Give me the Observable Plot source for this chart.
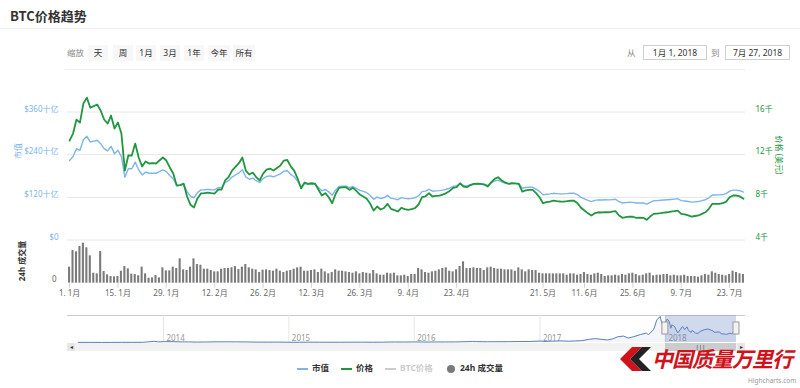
<!DOCTYPE html>
<html><head><meta charset="utf-8">
<script src="https://cdn.jsdelivr.net/npm/d3@7"></script>
<script src="https://cdn.jsdelivr.net/npm/@observablehq/plot@0.6"></script>
<style>
body{margin:0;background:#fff;font-family:"Noto Sans","Noto Sans CJK SC",sans-serif;}
#root{position:relative;width:800px;height:388px;overflow:hidden;background:#fff;}
.abs{position:absolute;}
.btn{position:absolute;top:45px;height:16px;line-height:16px;background:#f7f7f7;color:#333;font-size:8.5px;text-align:center;}
.dbox{position:absolute;top:45px;height:13px;line-height:13px;border:1px solid #cfcfcf;color:#333;font-size:8.5px;text-align:center;}
.rot{position:absolute;white-space:nowrap;font-size:8px;transform:translate(-50%,-50%) rotate(-90deg);}
.leg{position:absolute;top:362px;font-size:8.5px;font-weight:bold;color:#333;white-space:nowrap;line-height:12px;}
.legline{display:inline-block;width:11px;height:2px;vertical-align:middle;margin-right:4px;}
svg{overflow:visible;}
</style></head>
<body><div id="root">
<div class="abs" style="left:10px;top:6px;font-size:13px;font-weight:bold;color:#333;font-family:'Noto Sans CJK SC',sans-serif;">BTC价格趋势</div>
<div class="abs" style="left:0;top:28px;width:800px;height:1px;background:#eeeeee;"></div>
<div class="abs" style="left:67px;top:46px;font-size:8.5px;color:#888;line-height:14px;">缩放</div>
<div id="btns"></div>
<div class="abs" style="left:627px;top:46px;font-size:8.5px;color:#888;line-height:14px;">从</div>
<div class="dbox" style="left:643px;width:62px;">1月 1, 2018</div>
<div class="abs" style="left:711px;top:46px;font-size:8.5px;color:#888;line-height:14px;">到</div>
<div class="dbox" style="left:725px;width:63px;">7月 27, 2018</div>
<div class="abs" style="left:65px;top:69px;width:680px;height:1px;background:#eeeeee;"></div>
<div class="rot" style="left:17px;top:151px;color:#7cb5ec;">市值</div>
<div class="rot" style="left:779px;top:155px;color:#21963f;transform:translate(-50%,-50%) rotate(90deg);">价格 (美元)</div>
<div class="rot" style="left:21px;top:261px;color:#333;font-weight:bold;">24h 成交量</div>
<div id="main" class="abs" style="left:0;top:90px;"></div>
<div id="vol" class="abs" style="left:0;top:238px;"></div>
<div class="abs" style="left:67px;top:315px;width:678px;height:1px;background:#cccccc;"></div>
<div id="nav" class="abs" style="left:0;top:313px;"></div>
<div id="scroll"></div>
<div id="legend"></div>
<div class="abs" style="left:748px;top:376px;font-size:6.5px;color:#999;white-space:nowrap;">Highcharts.com</div>
<svg class="abs" style="left:618px;top:346px;" width="34" height="26" viewBox="0 0 34 26">
<polygon points="14,1 24,1 12,13 24,25 14,25 2,13" fill="#d0121b"/>
<polygon points="24,1 33,1 21,13 33,25 24,25 12,13" fill="#222"/>
</svg>
<div class="abs" style="left:652px;top:343px;font-size:21px;color:#d0121b;font-weight:bold;font-style:italic;font-family:'Noto Sans CJK SC',sans-serif;letter-spacing:-1px;">中国质量万里行</div>
</div>
<script>
const tickIndex = [0,14,28,42,56,70,84,98,112,137,149,163,177,191];
const tickLabels = ["1. 1月","15. 1月","29. 1月","12. 2月","26. 2月","12. 3月","26. 3月","9. 4月","23. 4月","21. 5月","11. 6月","25. 6月","9. 7月","23. 7月"];
const gridValues = [4000,8000,12000,16000];
const capTickLabels = ["$0","$120十亿","$240十亿","$360十亿"];
const priceTickLabels = ["4千","8千","12千","16千"];
const price = [
13320,13980,15290,15010,16790,17350,16400,16550,16700,16130,
15300,14920,15670,14450,15010,13980,10510,11920,11920,13040,
11730,10890,11360,11170,11200,11170,11450,11730,11450,10800,
10230,9110,9150,9290,8080,7300,7050,7900,8360,8400,
8450,8400,8360,8730,8730,9580,9900,10500,10850,11200,
11730,10510,10140,10320,9900,9580,10230,10600,10700,10510,
10750,10980,11450,11500,10900,10510,9760,8830,9390,9260,
9320,9290,8730,8170,8390,8010,7450,8330,8890,8930,
8950,8700,8890,8600,8260,8080,7860,7400,6760,7140,
6860,7000,7390,6920,6800,6670,7020,6900,6830,6890,
7000,7330,8010,8100,8390,8080,8130,8170,8260,8400,
8600,8890,8950,9320,9010,8950,9150,9270,9280,9270,
9200,9010,9400,9730,9880,9600,9400,9270,9320,9300,
9270,8540,8650,8700,8700,8390,8010,7450,7540,7600,
7700,7650,7610,7600,7640,7700,7680,7450,7020,6760,
6500,6300,6510,6600,6580,6620,6600,6650,6700,6300,
6080,6150,6200,6180,6080,6100,6080,5890,6200,6450,
6480,6510,6560,6600,6650,6700,6760,6450,6400,6300,
6200,6250,6300,6450,6600,6920,7390,7380,7390,7450,
7600,8010,8170,8170,8080,7860];
const marketCap = [
223.8,234.9,256.9,252.2,282.1,291.5,275.5,278.0,280.6,271.0,
257.0,250.7,263.3,242.8,252.2,234.9,176.6,200.3,200.3,219.1,
197.1,183.0,190.8,187.7,188.2,187.7,192.4,197.1,192.4,181.4,
171.9,153.5,154.2,156.5,136.1,123.0,118.8,133.1,140.9,141.5,
142.4,141.5,140.9,147.1,147.1,161.4,166.8,176.9,182.8,188.7,
197.7,177.1,170.9,173.9,166.8,161.4,172.4,178.6,180.3,177.8,
181.9,185.8,193.7,194.6,184.4,177.8,165.1,149.4,158.9,156.7,
157.7,157.2,147.7,138.2,142.0,135.5,126.1,140.9,150.4,151.1,
151.4,147.2,150.4,145.5,139.8,136.7,133.0,125.2,114.4,120.8,
116.6,118.9,125.6,117.6,115.5,113.3,119.3,117.2,116.0,117.1,
118.9,124.5,136.1,137.6,142.5,137.3,138.1,138.8,140.3,142.7,
146.1,151.0,152.1,158.3,153.1,152.1,155.5,157.5,157.7,157.5,
156.9,153.6,160.3,165.9,168.5,163.7,160.3,158.1,158.9,158.6,
158.1,145.6,147.5,148.3,148.3,143.0,136.6,127.0,128.6,129.6,
131.3,130.4,129.7,129.6,130.3,131.3,131.3,127.4,120.0,115.6,
111.2,107.7,111.3,112.9,112.5,113.2,112.9,113.7,114.6,107.7,
104.0,105.2,106.0,105.7,104.0,104.3,104.0,100.7,106.0,110.3,
110.8,111.7,112.6,113.3,114.1,115.0,116.0,110.7,109.8,108.1,
106.4,107.3,108.1,110.7,113.3,118.7,126.8,126.6,126.8,127.8,
130.4,137.5,140.2,140.2,138.7,134.9];
const volume = [
9.6,19.6,18.8,22,24,21.2,16.4,6,5.6,19,
7,5,4,3.8,4,7.2,10,8.6,5.4,5.2,
4.4,9.6,5.6,3,3.2,4.6,3.2,9.2,7.4,7.4,
9.6,8.8,14.6,8,7.6,9.6,14.6,11.2,10.8,8.4,
8.4,7.6,6.8,6.8,8.4,8.8,8.8,9.2,10,8.2,
9.6,11.2,9.2,8.4,8,6.4,7.8,8,7.6,7.2,
8.4,7.2,6.4,7.2,7.6,8.4,9.2,9.6,7.2,7.2,
7.6,8,6.4,8.4,6.8,5.6,6.4,8,7.2,7.2,
6.8,6.4,6,6.8,5.6,6.4,6,5.6,7.6,5.6,
4.8,4.8,6,5.6,6,4.4,4.4,4.8,4,5.2,
5.2,8.8,8,6.4,6,6.8,7.2,8,8.8,9.2,
7.2,6.8,8,10,12.8,8.8,8.8,9.2,8.8,8.8,
7.6,9.2,9.6,8.8,8.4,8.4,8,8,8,7.2,
9.2,8,6.8,8,7.6,7.6,6,5.6,5.6,5.6,
5.6,5.6,5.6,5.6,4.8,5.6,5.6,4.8,5.2,6.4,
5.2,4.8,5.6,6,5.2,4,4.4,4.4,4.8,4.4,
5.2,4.8,5.6,6,5.2,4.4,4.8,5.6,6,4.4,
4.8,4.8,5.2,5.2,4.4,4.8,4.4,4.4,4.8,4,
4,4,3.6,4.4,5.2,4.8,6.8,6,5.2,4.8,
4.4,5.2,7.2,6.4,5.6,5.2];
const navDates = ["2013-04-28","2013-06-01","2013-07-05","2013-08-01","2013-09-01","2013-10-01","2013-11-01","2013-11-18","2013-12-04","2013-12-18","2014-01-05","2014-02-01","2014-02-25","2014-03-15","2014-04-10","2014-05-01","2014-06-03","2014-07-01","2014-08-01","2014-09-01","2014-10-01","2014-11-01","2014-12-01","2015-01-14","2015-02-01","2015-03-01","2015-04-01","2015-05-01","2015-06-01","2015-07-01","2015-08-01","2015-09-01","2015-10-01","2015-11-04","2015-12-01","2016-01-01","2016-02-01","2016-03-01","2016-04-01","2016-05-01","2016-06-18","2016-07-01","2016-08-01","2016-09-01","2016-10-01","2016-11-01","2016-12-01","2017-01-04","2017-01-12","2017-02-01","2017-03-03","2017-03-25","2017-04-15","2017-05-01","2017-05-25","2017-06-12","2017-07-16","2017-08-01","2017-08-15","2017-09-01","2017-09-15","2017-10-01","2017-10-20","2017-11-07","2017-11-12","2017-11-28","2017-12-07","2017-12-17","2017-12-22","2017-12-31","2018-01-06","2018-01-12","2018-01-17","2018-01-20","2018-01-28","2018-02-06","2018-02-20","2018-02-26","2018-03-05","2018-03-09","2018-03-17","2018-03-20","2018-03-30","2018-04-06","2018-04-12","2018-04-24","2018-05-05","2018-05-20","2018-05-23","2018-06-08","2018-06-12","2018-06-24","2018-06-28","2018-07-08","2018-07-13","2018-07-17","2018-07-24","2018-07-27"];
const navCaps = [1.5,1.4,0.8,1.2,1.6,1.6,2.5,7.5,14,8,11,10,7,7,4.8,5.5,8,7.8,7.5,6.4,4.6,4.6,4.9,2.3,3.1,3.5,3.5,3.3,3.3,3.8,4.2,3.4,3.6,6.5,5.7,6.5,5.6,6.5,6.5,7.0,12,10.5,9.2,9.6,10,11.8,12.3,18.4,13,16.4,20,15.5,19.5,22.4,40,48,31.5,45,70,80,55,72,98,118,96,160,280,323,230,240,291,263,177,219,197,119,198,161,195,149,126,151,115,113,137,158,168,143,127,131,108,104,101,116,106,127,140,135];
const yearDates = ["2014-01-01","2015-01-01","2016-01-01","2017-01-01","2018-01-01"];
const yearLabels = ["2014","2015","2016","2017","2018"];
const rangeStart = "2018-01-01", rangeEnd = "2018-07-27";
const buttons = ["天","周","1月","3月","1年","今年","所有"];
const legendItems = ["市值","价格","BTC价格","24h 成交量"];

const rows = price.map((p, i) => ({i, price: p, cap: marketCap[i], vol: volume[i]}));
const xLabel = new Map(tickIndex.map((t, k) => [t, tickLabels[k]]));
const capLabel = new Map(gridValues.map((v, k) => [v, capTickLabels[k]]));
const priceLabel = new Map(gridValues.map((v, k) => [v, priceTickLabels[k]]));
const font = {fontFamily: "'Noto Sans','Noto Sans CJK SC',sans-serif", fontSize: "8px", background: "transparent", overflow: "visible"};
const xDomain = [-0.6, 195.6];

// range selector buttons
const bx = [88,113,136,160,184,208,233], bw = [20,20,20,20,20,22,22];
const btnHost = document.getElementById("btns");
buttons.forEach((b, k) => {
  const d = document.createElement("div");
  d.className = "btn"; d.style.left = bx[k] + "px"; d.style.width = bw[k] + "px"; d.textContent = b;
  btnHost.appendChild(d);
});

// main chart: price on y; market cap mapped onto the shared grid ($120十亿 per 4千)
const main = Plot.plot({
  width: 800, height: 152, marginLeft: 67, marginRight: 55, marginTop: 21.5, marginBottom: 2.5,
  style: font,
  x: {domain: xDomain, axis: null},
  y: {domain: [4000, 16000], axis: null},
  marks: [
    Plot.ruleY(gridValues, {stroke: "#e6e6e6"}),
    Plot.axisY(gridValues, {anchor: "left", tickSize: 0, tickPadding: 9, tickFormat: d => capLabel.get(d), fill: "#7cb5ec", fontSize: 8, dy: -3, label: null}),
    Plot.axisY(gridValues, {anchor: "right", tickSize: 0, tickPadding: 10, tickFormat: d => priceLabel.get(d), fill: "#21963f", fontSize: 8, dy: -3, label: null}),
    Plot.lineY(rows, {x: "i", y: d => 4000 + d.cap * 4000 / 120, stroke: "#7cb5ec", strokeWidth: 1.4}),
    Plot.lineY(rows, {x: "i", y: "price", stroke: "#21963f", strokeWidth: 1.8})
  ]
});
document.getElementById("main").appendChild(main);

// volume panel with x axis
const vol = Plot.plot({
  width: 800, height: 62, marginLeft: 67, marginRight: 55, marginTop: 3, marginBottom: 17.3,
  style: font,
  x: {domain: xDomain, axis: null},
  y: {domain: [0, 25], axis: null},
  marks: [
    Plot.rectY(rows, {x1: d => d.i - 0.3, x2: d => d.i + 0.3, y: "vol", fill: "#7a7a7a"}),
    Plot.axisX(tickIndex, {anchor: "bottom", tickSize: 5, tickPadding: 2, tickFormat: d => xLabel.get(d), stroke: "#ccd6eb", fill: "#666", fontSize: 8, label: null}),
    Plot.axisY([0], {anchor: "left", tickSize: 0, tickPadding: 11, tickFormat: () => "0", fill: "#666", fontSize: 8, dy: -4, label: null})
  ]
});
document.getElementById("vol").appendChild(vol);

// navigator
const navRows = navDates.map((d, k) => ({date: new Date(d), cap: navCaps[k]}));
const years = yearDates.map((d, k) => ({date: new Date(d), label: yearLabels[k]}));
const sel = [{x1: new Date(rangeStart), x2: new Date(rangeEnd)}];
const nav = Plot.plot({
  width: 800, height: 31, marginLeft: 77.7, marginRight: 64, marginTop: 2, marginBottom: 2,
  style: font,
  x: {type: "utc", domain: [new Date(navDates[0]), new Date(rangeEnd)], axis: null},
  y: {domain: [0, 335], axis: null},
  marks: [
    Plot.ruleX(years, {x: "date", stroke: "#e6e6e6"}),
    Plot.text(years, {x: "date", text: "label", frameAnchor: "bottom", textAnchor: "start", dx: 3, dy: -2, fill: "#999", fontSize: 8}),
    Plot.areaY(navRows, {x: "date", y: "cap", fill: "#335cad", fillOpacity: 0.06}),
    Plot.lineY(navRows, {x: "date", y: "cap", stroke: "#5b7fc0", strokeWidth: 1}),
    Plot.rect(sel, {x1: "x1", x2: "x2", fill: "#6685c2", fillOpacity: 0.3}),
    Plot.rect([sel[0].x1, sel[0].x2], {x1: d => d, x2: d => d, insetLeft: -3, insetRight: -3, insetTop: 7, insetBottom: 8, fill: "#f2f2f2", stroke: "#999"})
  ]
});
document.getElementById("nav").appendChild(nav);

// scrollbar using the navigator scale
const sx = nav.scale("x");
const sc = document.getElementById("scroll");
const mk = (l, t, w, h, bg, txt) => {
  const d = document.createElement("div");
  d.className = "abs";
  Object.assign(d.style, {left: l + "px", top: t + "px", width: w + "px", height: h + "px", background: bg, fontSize: "6px", color: "#333", textAlign: "center", lineHeight: h + "px"});
  if (txt) d.textContent = txt;
  sc.appendChild(d);
};
mk(67, 343, 678, 8, "#f2f2f2");
const a = sx.apply(new Date(rangeStart)), b = sx.apply(new Date(rangeEnd));
mk(a, 343, b - a, 8, "#cccccc", "|||");
mk(67, 343, 8, 8, "#e6e6e6", "◂");
mk(737, 343, 8, 8, "#e6e6e6", "▸");

// legend
const legHost = document.getElementById("legend");
const legX = [297, 341, 385, 447];
const legColors = ["#7cb5ec", "#21963f", "#cccccc", "#7a7a7a"];
legendItems.forEach((t, k) => {
  const d = document.createElement("div");
  d.className = "leg"; d.style.left = legX[k] + "px";
  if (k === 2) d.style.color = "#cccccc";
  const sym = k === 3
    ? `<span style="display:inline-block;width:8px;height:8px;border-radius:50%;background:${legColors[k]};vertical-align:middle;margin-right:5px;"></span>`
    : `<span class="legline" style="background:${legColors[k]}"></span>`;
  d.innerHTML = sym + t;
  legHost.appendChild(d);
});
</script>
</body></html>
